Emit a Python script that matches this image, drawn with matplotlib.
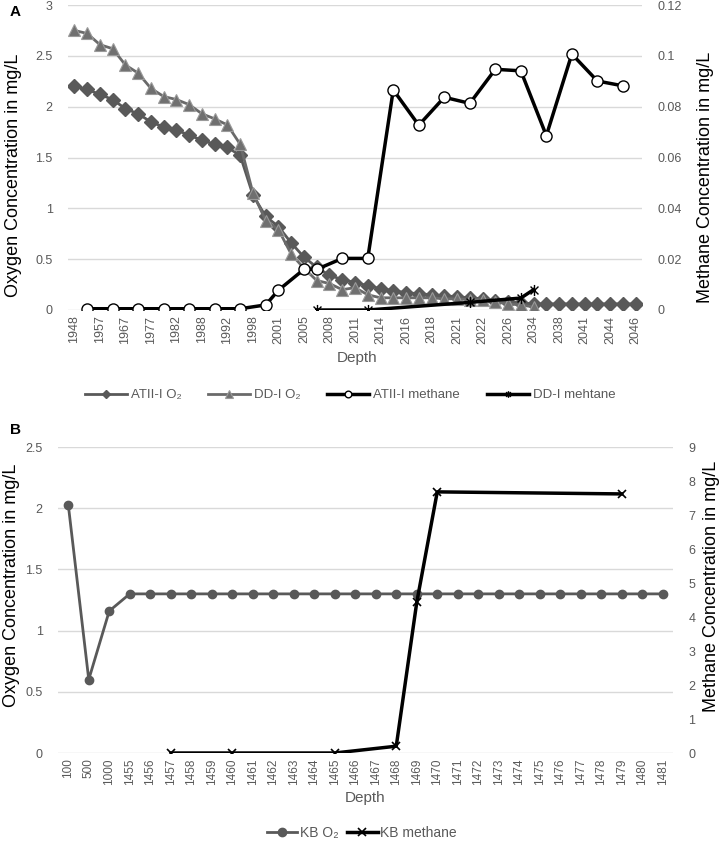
import matplotlib
matplotlib.use('Agg')
import matplotlib.pyplot as plt
from matplotlib.path import Path
import numpy as np

plt.rcParams['font.family'] = ['Liberation Sans', 'DejaVu Sans']

# ---- panel A data (category axis, 45 depth categories, every 2nd labelled)
depth_labels_a = ['1948', '1957', '1967', '1977', '1982', '1988', '1992', '1998',
                  '2001', '2005', '2008', '2011', '2014', '2016', '2018', '2021',
                  '2022', '2026', '2034', '2038', '2041', '2044', '2046']
n_cat_a = 45

atii_o2 = [2.20, 2.17, 2.12, 2.07, 1.98, 1.93, 1.85, 1.80, 1.77, 1.72, 1.67, 1.63,
           1.60, 1.52, 1.13, 0.92, 0.82, 0.66, 0.52, 0.42, 0.34, 0.30, 0.27, 0.24,
           0.21, 0.19, 0.17, 0.16, 0.15, 0.14, 0.13, 0.12, 0.11, 0.09, 0.08, 0.07,
           0.06, 0.06, 0.06, 0.06, 0.06, 0.06, 0.06, 0.06, 0.06]
dd_o2 = [2.75, 2.72, 2.61, 2.57, 2.41, 2.33, 2.18, 2.10, 2.07, 2.02, 1.93, 1.88,
         1.82, 1.63, 1.15, 0.88, 0.79, 0.55, 0.41, 0.29, 0.26, 0.20, 0.22, 0.15,
         0.12, 0.12, 0.12, 0.12, 0.12, 0.11, 0.11, 0.10, 0.10, 0.08, 0.06, 0.05, 0.03]

atii_ch4_cat = [1, 3, 5, 7, 9, 11, 13, 15, 16, 18, 19, 21, 23, 25, 27, 29, 31, 33,
                35, 37, 39, 41, 43]
atii_ch4 = [0.0005, 0.0005, 0.0005, 0.0005, 0.0005, 0.0005, 0.0005, 0.002, 0.0078,
            0.016, 0.016, 0.0203, 0.0203, 0.0866, 0.0727, 0.0837, 0.0813, 0.0947,
            0.0941, 0.0686, 0.1007, 0.0901, 0.0882]
dd_ch4_cat = [19, 23, 31, 35, 36]
dd_ch4 = [0.0, 0.0, 0.003, 0.0047, 0.008]

# ---- panel B data
depth_labels_b = ['100', '500', '1000', '1455', '1456', '1457', '1458', '1459',
                  '1460', '1461', '1462', '1463', '1464', '1465', '1466', '1467',
                  '1468', '1469', '1470', '1471', '1472', '1473', '1474', '1475',
                  '1476', '1477', '1478', '1479', '1480', '1481']
kb_o2 = [2.03, 0.60, 1.16, 1.30, 1.30, 1.30, 1.30, 1.30, 1.30, 1.30, 1.30, 1.30,
         1.30, 1.30, 1.30, 1.30, 1.30, 1.30, 1.30, 1.30, 1.30, 1.30, 1.30, 1.30,
         1.30, 1.30, 1.30, 1.30, 1.30, 1.30]
kb_ch4_depth = ['1457', '1460', '1465', '1468', '1469', '1470', '1479']
kb_ch4 = [0.0, 0.0, 0.0, 0.2, 4.43, 7.68, 7.62]

gray = '#595959'
tickc = '#595959'
gridc = '#d9d9d9'

# asterisk like marker (x plus vertical bar)
star = Path([(-1, -1), (1, 1), (-1, 1), (1, -1), (0, -1.4), (0, 1.4)],
            [Path.MOVETO, Path.LINETO] * 3)

W, H = 719, 841
fig = plt.figure(figsize=(W / 100, H / 100), dpi=100)


def box(l, t, r, b):
    return [l / W, 1 - b / H, (r - l) / W, (b - t) / H]


def style(ax, ax2, xsize=9):
    for a in (ax, ax2):
        for s in a.spines.values():
            s.set_visible(False)
        a.tick_params(length=0, labelsize=9, colors=tickc)
    ax.yaxis.grid(True, color=gridc, linewidth=1)
    ax.set_axisbelow(True)
    ax.tick_params(axis='y', pad=11)
    ax2.tick_params(axis='y', pad=11)
    ax.tick_params(axis='x', pad=4, labelsize=xsize)


# ================= panel A
ax = fig.add_axes(box(68, 5, 642, 310))
ax2 = ax.twinx()
style(ax, ax2)

l1, = ax.plot(range(len(atii_o2)), atii_o2, color=gray, lw=2, marker='D', ms=7,
              mfc=gray, mec=gray, label='ATII-I O\u2082')
l2, = ax.plot(range(len(dd_o2)), dd_o2, color='#6a6a6a', lw=2, marker='^', ms=9,
              mfc='#707070', mec='#9a9a9a', mew=0.8, label='DD-I O\u2082')
l3, = ax2.plot(atii_ch4_cat, atii_ch4, color='black', lw=2.5, marker='o', ms=8,
               mfc='white', mec='black', mew=1, label='ATII-I methane')
l4, = ax2.plot(dd_ch4_cat, dd_ch4, color='black', lw=2.5, marker=star, ms=8,
               mec='black', mew=1, label='DD-I mehtane')

ax.set_xlim(-0.5, n_cat_a - 0.5)
ax.set_ylim(0, 3)
ax2.set_ylim(0, 0.12)
ax.set_yticks(np.arange(0, 3.01, 0.5))
ax.set_yticklabels(['0', '0.5', '1', '1.5', '2', '2.5', '3'])
ax2.set_yticks(np.arange(0, 0.121, 0.02))
ax2.set_yticklabels(['0', '0.02', '0.04', '0.06', '0.08', '0.1', '0.12'])
ax.set_xticks(range(0, n_cat_a, 2))
ax.set_xticklabels(depth_labels_a, rotation=90)

fig.text(14 / W, 1 - 175 / H, 'Oxygen Concentration in mg/L', rotation=90,
         ha='center', va='center', fontsize=13)
fig.text(706 / W, 1 - 177 / H, 'Methane Concentration in mg/L', rotation=90,
         ha='center', va='center', fontsize=13)
fig.text(357 / W, 1 - 358 / H, 'Depth', ha='center', va='center', fontsize=11,
         color=tickc)
fig.text(10 / W, 1 - 12 / H, 'A', ha='left', va='center', fontsize=11,
         fontweight='bold')

leg = fig.legend([l1, l2, l3, l4], [h.get_label() for h in [l1, l2, l3, l4]],
                 loc='center', bbox_to_anchor=(350 / W, 1 - 395 / H), ncol=4,
                 frameon=False, fontsize=9.5, handlelength=3.2, columnspacing=2.0,
                 handletextpad=0.3, markerscale=0.6)
for t in leg.get_texts():
    t.set_color(tickc)

# ================= panel B
bx = fig.add_axes(box(58, 447, 673, 753))
bx2 = bx.twinx()
style(bx, bx2, xsize=8.5)

m1, = bx.plot(range(len(kb_o2)), kb_o2, color=gray, lw=2, marker='o', ms=6,
              mfc=gray, mec=gray, label='KB O\u2082')
kb_ch4_cat = [depth_labels_b.index(d) for d in kb_ch4_depth]
m2, = bx2.plot(kb_ch4_cat, kb_ch4, color='black', lw=2.5, marker='x', ms=6,
               mec='black', mew=1.2, label='KB methane')

bx.set_xlim(-0.5, len(depth_labels_b) - 0.5)
bx.set_ylim(0, 2.5)
bx2.set_ylim(0, 9)
bx.set_yticks(np.arange(0, 2.51, 0.5))
bx.set_yticklabels(['0', '0.5', '1', '1.5', '2', '2.5'])
bx2.set_yticks(range(0, 10))
bx.set_xticks(range(len(depth_labels_b)))
bx.set_xticklabels(depth_labels_b, rotation=90)

fig.text(12 / W, 1 - 585 / H, 'Oxygen Concentration in mg/L', rotation=90,
         ha='center', va='center', fontsize=13)
fig.text(712 / W, 1 - 586 / H, 'Methane Concentration in mg/L', rotation=90,
         ha='center', va='center', fontsize=13)
fig.text(365 / W, 1 - 798 / H, 'Depth', ha='center', va='center', fontsize=11,
         color=tickc)
fig.text(10 / W, 1 - 430 / H, 'B', ha='left', va='center', fontsize=11,
         fontweight='bold')

leg2 = fig.legend([m1, m2], ['KB O\u2082', 'KB methane'], loc='center',
                  bbox_to_anchor=(362 / W, 1 - 833 / H), ncol=2, frameon=False,
                  fontsize=10, handlelength=2.2, columnspacing=0.6,
                  handletextpad=0.2)
for t in leg2.get_texts():
    t.set_color(tickc)

fig.savefig('out.png', dpi=100)
